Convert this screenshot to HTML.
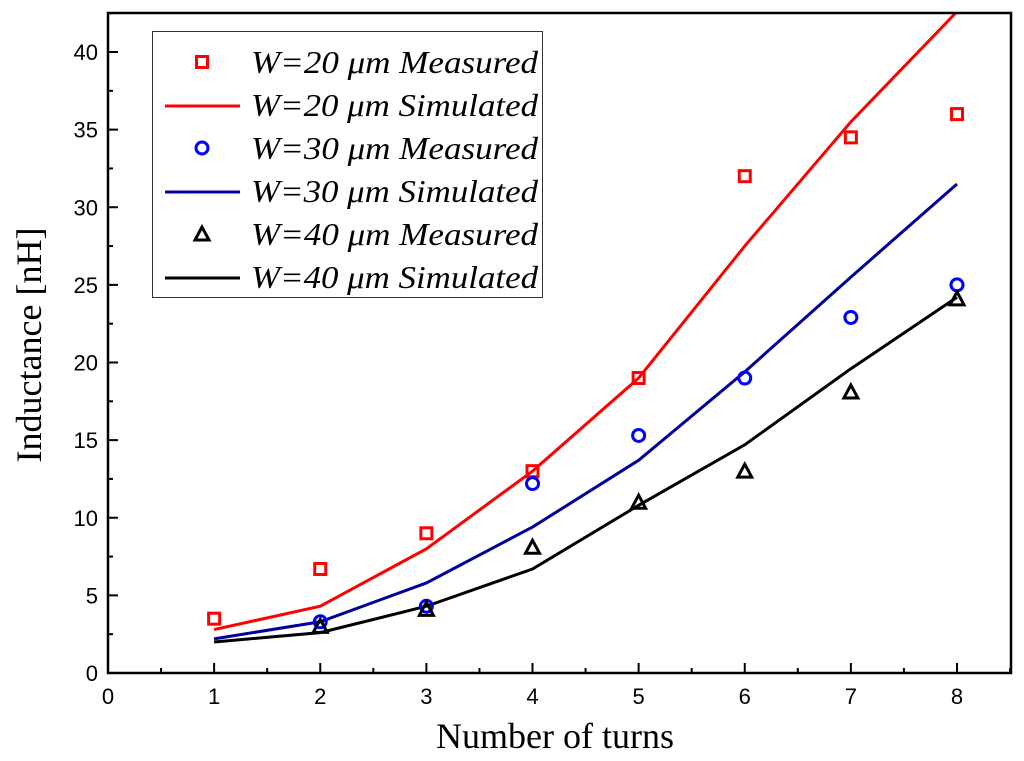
<!DOCTYPE html>
<html><head><meta charset="utf-8"><style>
html,body{margin:0;padding:0;background:#fff;width:1024px;height:761px;overflow:hidden}
</style></head><body>
<svg id="chart" width="1024" height="761" xmlns="http://www.w3.org/2000/svg"></svg>
<script>
const turns = [1,2,3,4,5,6,7,8];
const sim20 = [2.8,4.3,8.0,13.0,19.0,27.5,35.5,42.6];
const sim30 = [2.2,3.3,5.8,9.4,13.7,19.4,25.5,31.5];
const sim40 = [2.0,2.6,4.3,6.7,10.8,14.7,19.6,24.2];
const meas20x = [1,2,3,4,5,6,7,8];
const meas20 = [3.5,6.7,9.0,13.0,19.0,32.0,34.5,36.0];
const meas30x = [2,3,4,5,6,7,8];
const meas30 = [3.3,4.3,12.2,15.3,19.0,22.9,25.0];
const meas40x = [2,3,4,5,6,7,8];
const meas40 = [3.0,4.1,8.1,11.0,13.0,18.1,24.1];
const xTicks = [0,1,2,3,4,5,6,7,8];
const yTicks = [0,5,10,15,20,25,30,35,40];

const NS="http://www.w3.org/2000/svg";
const svg=document.getElementById('chart');
const L=108,R=1011,T=13,B=673;
const xs=v=>L+(v-0)*(957-108)/8;
const ys=v=>B-v*(673-52)/40;
function mk(tag,attrs,parent){const e=document.createElementNS(NS,tag);for(const k in attrs)e.setAttribute(k,attrs[k]);(parent||svg).appendChild(e);return e;}

const defs=mk('defs',{});
const cp=mk('clipPath',{id:'clip'},defs);
mk('rect',{x:L,y:T,width:R-L,height:B-T},cp);

xTicks.forEach(v=>{
  const t=mk('line',{x1:xs(v),x2:xs(v),y1:B,y2:B-10,stroke:'#000','stroke-width':2});
  
  
  const h=mk('line',{x1:xs(v+0.5),x2:xs(v+0.5),y1:B,y2:B-5,stroke:'#000','stroke-width':2});
  
  
  const l=mk('text',{x:xs(v),y:B+31,'text-anchor':'middle','font-family':'Liberation Sans, sans-serif','font-size':22});
  l.textContent=v;
  
  
});
yTicks.forEach(v=>{
  const t=mk('line',{x1:L,x2:L+10,y1:ys(v),y2:ys(v),stroke:'#000','stroke-width':2});
  
  
  const h=mk('line',{x1:L,x2:L+5,y1:ys(v+2.5),y2:ys(v+2.5),stroke:'#000','stroke-width':2});
  
  
  const l=mk('text',{x:L-10,y:ys(v)+8,'text-anchor':'end','font-family':'Liberation Sans, sans-serif','font-size':22});
  l.textContent=v;
  
  
});

function line(xv,yv,color,name){
  const p=mk('polyline',{points:xv.map((x,i)=>xs(x)+','+ys(yv[i])).join(' '),fill:'none',stroke:color,'stroke-width':3,'clip-path':'url(#clip)'});
  
  
}
line(turns,sim20,'#ff0000','sim-20-line');
line(turns,sim30,'#00009a','sim-30-line');
line(turns,sim40,'#000000','sim-40-line');

function marker(type,cx,cy,parent){
  let e;
  if(type==='sq') e=mk('rect',{x:cx-5.5,y:cy-5.5,width:11,height:11,fill:'none',stroke:'#ff0000','stroke-width':3},parent);
  else if(type==='ci') e=mk('circle',{cx:cx,cy:cy,r:6,fill:'none',stroke:'#0000ff','stroke-width':3},parent);
  else e=mk('polygon',{points:`${cx},${cy-7} ${cx-7},${cy+6} ${cx+7},${cy+6}`,fill:'none',stroke:'#000','stroke-width':3},parent);
  return e;
}
meas20x.forEach((x,i)=>{const e=marker('sq',xs(x),ys(meas20[i]));
  
  });
meas30x.forEach((x,i)=>{const e=marker('ci',xs(x),ys(meas30[i]));
  
  });
meas40x.forEach((x,i)=>{const e=marker('tr',xs(x),ys(meas40[i]));
  
  });

const fr=mk('rect',{x:L,y:T,width:R-L,height:B-T,fill:'none',stroke:'#000','stroke-width':2.5});



const lg=mk('g',{});


mk('rect',{x:152.5,y:31.5,width:390,height:266,fill:'#fff',stroke:'#333','stroke-width':1},lg);
const entries=[['sq','W=20 \u03bcm Measured'],['line#ff0000','W=20 \u03bcm Simulated'],['ci','W=30 \u03bcm Measured'],['line#00009a','W=30 \u03bcm Simulated'],['tr','W=40 \u03bcm Measured'],['line#000000','W=40 \u03bcm Simulated']];
entries.forEach((en,i)=>{
  const cy=62+i*43;
  const g=mk('g',{},lg);
  
  
  if(en[0].startsWith('line')) mk('line',{x1:165,x2:240,y1:cy+1,y2:cy+1,stroke:en[0].slice(4),'stroke-width':3},g);
  else marker(en[0],202,cy,g);
  const t=mk('text',{x:251,y:cy+11,'font-family':'Liberation Serif, serif','font-style':'italic','font-size':32,textLength:287,lengthAdjust:'spacingAndGlyphs'},g);
  t.textContent=en[1];
});

const xt=mk('text',{x:555,y:748,'text-anchor':'middle','font-family':'Liberation Serif, serif','font-size':36});
xt.textContent='Number of turns';


const yt=mk('text',{x:0,y:0,'text-anchor':'middle','font-family':'Liberation Serif, serif','font-size':36,transform:'translate(41,345) rotate(-90)'});
yt.textContent='Inductance [nH]';


</script>
</body></html>
